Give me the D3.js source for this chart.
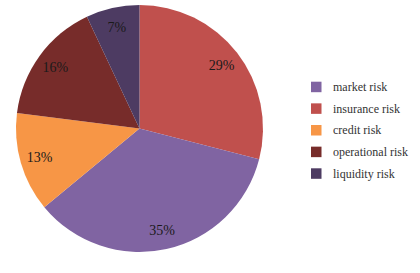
<!DOCTYPE html>
<html><head><meta charset="utf-8">
<script src="https://cdn.jsdelivr.net/npm/d3@7"></script>
<style>html,body{margin:0;padding:0;background:#fff;}</style>
</head><body>
<svg id="c" width="420" height="273"></svg>
<script>
// Data (clockwise order from 12 o'clock)
const sliceCategories = ["insurance risk", "market risk", "credit risk", "operational risk", "liquidity risk"];
const sliceValues = [29, 35, 13, 16, 7];
// Legend order
const legendCategories = ["market risk", "insurance risk", "credit risk", "operational risk", "liquidity risk"];
const colors = {
  "market risk": "#8064a2",
  "insurance risk": "#c0504d",
  "credit risk": "#f79646",
  "operational risk": "#772c2a",
  "liquidity risk": "#4d3b62"
};

const svg = d3.select("#c");
const cx = 139.5, cy = 128.5, R = 123.5;
const g = svg.append("g").attr("transform", `translate(${cx},${cy})`);
const data = sliceCategories.map((c, i) => ({cat: c, value: sliceValues[i]}));
const pie = d3.pie().value(d => d.value).sort(null);
const arcs = pie(data);
const arc = d3.arc().innerRadius(0).outerRadius(R);
const labelArc = d3.arc().innerRadius(104).outerRadius(104);
const total = d3.sum(sliceValues);

g.selectAll("path").data(arcs).enter().append("path")
  .attr("d", arc)
  .attr("fill", d => colors[d.data.cat]);

g.selectAll("text").data(arcs).enter().append("text")
  .attr("transform", d => `translate(${labelArc.centroid(d)})`)
  .attr("text-anchor", "middle")
  .attr("dy", "0.35em")
  .attr("font-family", "Liberation Serif, Times New Roman, serif")
  .attr("font-size", "14px")
  .attr("fill", "#1a1a1a")
  .text(d => Math.round(d.data.value / total * 100) + "%");

const leg = svg.append("g");
const ly = d3.scalePoint().domain(legendCategories).range([86.7, 173.3]);
legendCategories.forEach(c => {
  leg.append("rect").attr("x", 311).attr("y", ly(c) - 5).attr("width", 10.5).attr("height", 10.5)
    .attr("fill", colors[c]);
  leg.append("text").attr("x", 333).attr("y", ly(c)).attr("dy", "0.35em")
    .attr("font-family", "Liberation Serif, Times New Roman, serif")
    .attr("font-size", "12px").attr("fill", "#333")
    .text(c);
});
</script>
</body></html>
